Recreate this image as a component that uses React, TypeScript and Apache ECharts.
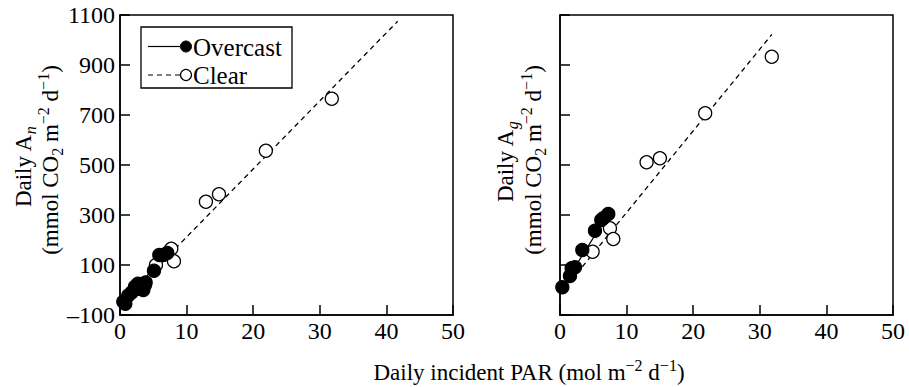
import React, { useEffect, useRef } from "react";
import * as echarts from "echarts";

// ---- data ----
const xTicks = [0, 10, 20, 30, 40, 50];
const yTicks = [-100, 100, 300, 500, 700, 900, 1100];

// Left panel: daily An
const anOvercastX = [0.5, 0.8, 1.25, 1.75, 2.25, 2.7, 3.0, 3.5, 3.75, 3.85, 5.1, 5.9, 6.5, 7.1];
const anOvercastY = [-47, -55, -22, -10, 13, 25, 5, 0, 20, 30, 77, 140, 140, 148];
const anClearX = [5.4, 7.7, 8.1, 12.9, 14.86, 21.9, 31.8];
const anClearY = [100, 165, 115, 353, 383, 557, 765];
const anOvercastFitX = [0.5, 7.1];
const anOvercastFitY = [-50, 148];
const anClearFitX = [4.5, 41.7];
const anClearFitY = [62, 1075];

// Right panel: daily Ag
const agOvercastX = [0.35, 1.5, 1.75, 2.25, 3.35, 5.25, 6.2, 6.5, 7.25];
const agOvercastY = [11, 56, 87, 91, 160, 237, 280, 287, 304];
const agClearX = [4.9, 7.5, 8.0, 13.0, 15.0, 21.8, 31.8];
const agClearY = [153, 247, 204, 511, 527, 707, 933];
const agOvercastFitX = [0.35, 7.25];
const agOvercastFitY = [11, 304];
const agClearFitX = [2.5, 31.8];
const agClearFitY = [65, 1022];

const FONT = "'Liberation Serif', 'Times New Roman', serif";

const pairs = (xs: number[], ys: number[]) => xs.map((x, i) => [x, ys[i]]);

export default function App() {
  const ref = useRef<HTMLDivElement>(null);

  useEffect(() => {
    if (!ref.current) return;
    const chart = echarts.init(ref.current, undefined, { renderer: "svg" });

    const xAxisBase = (gridIndex: number) => ({
      type: "value",
      gridIndex,
      min: xTicks[0],
      max: xTicks[xTicks.length - 1],
      interval: 10,
      axisLine: { show: true, onZero: false, lineStyle: { color: "#000", width: 1.5 } },
      axisTick: { show: true, inside: true, length: 10, lineStyle: { color: "#000", width: 1.5 } },
      axisLabel: { show: true, color: "#000", fontFamily: FONT, fontSize: 24, margin: 4 },
      splitLine: { show: false },
    });
    const yAxisBase = (gridIndex: number, showLabel: boolean) => ({
      type: "value",
      gridIndex,
      min: yTicks[0],
      max: yTicks[yTicks.length - 1],
      interval: 200,
      axisLine: { show: true, onZero: false, lineStyle: { color: "#000", width: 1.5 } },
      axisTick: { show: true, inside: true, length: 10, lineStyle: { color: "#000", width: 1.5 } },
      axisLabel: {
        show: showLabel,
        color: "#000",
        fontFamily: FONT,
        fontSize: 24,
        margin: 5,
        formatter: (v: number) => (v < 0 ? "\u2013" + Math.abs(v) : String(v)),
      },
      splitLine: { show: false },
    });

    const lineSeries = (xi: number, xs: number[], ys: number[], dashed: boolean) => ({
      type: "line",
      xAxisIndex: xi,
      yAxisIndex: xi,
      data: pairs(xs, ys),
      showSymbol: false,
      silent: true,
      z: 1,
      lineStyle: { color: "#000", width: 1.3, type: dashed ? [5, 4] : "solid" },
    });
    const scatterSeries = (xi: number, xs: number[], ys: number[], filled: boolean) => ({
      type: "scatter",
      xAxisIndex: xi,
      yAxisIndex: xi,
      data: pairs(xs, ys),
      symbol: "circle",
      symbolSize: 13,
      silent: true,
      z: filled ? 4 : 3,
      itemStyle: { color: filled ? "#000" : "#fff", borderColor: "#000", borderWidth: 1.3, opacity: 1 },
    });

    const rich = {
      a: { fontFamily: FONT, fontSize: 23, lineHeight: 30, color: "#000", verticalAlign: "middle" },
      sub: { fontFamily: FONT, fontSize: 16, lineHeight: 16, color: "#000", verticalAlign: "bottom" },
      subi: { fontFamily: FONT, fontSize: 16, lineHeight: 16, fontStyle: "italic", color: "#000", verticalAlign: "bottom" },
      sup: { fontFamily: FONT, fontSize: 16, lineHeight: 16, color: "#000", verticalAlign: "top" },
    };

    const unitText = "{a|(mmol CO}{sub|2}{a| m}{sup|\u22122}{a| d}{sup|\u22121}{a|)}";

    const rotText = (x: number, y: number, text: string) => ({
      type: "text",
      x,
      y,
      rotation: Math.PI / 2,
      silent: true,
      style: {
        text,
        rich,
        align: "center",
        verticalAlign: "middle",
        fill: "#000",
        font: `23px ${FONT}`,
      },
    });

    const option: any = {
      animation: false,
      backgroundColor: "#fff",
      grid: [
        { left: 120, top: 15, width: 333, height: 300, show: true, borderColor: "#000", borderWidth: 1.5, backgroundColor: "transparent" },
        { left: 560, top: 15, width: 333, height: 300, show: true, borderColor: "#000", borderWidth: 1.5, backgroundColor: "transparent" },
      ],
      xAxis: [xAxisBase(0), xAxisBase(1)],
      yAxis: [yAxisBase(0, true), yAxisBase(1, false)],
      series: [
        lineSeries(0, anOvercastFitX, anOvercastFitY, false),
        lineSeries(0, anClearFitX, anClearFitY, true),
        scatterSeries(0, anClearX, anClearY, false),
        scatterSeries(0, anOvercastX, anOvercastY, true),
        lineSeries(1, agOvercastFitX, agOvercastFitY, false),
        lineSeries(1, agClearFitX, agClearFitY, true),
        scatterSeries(1, agClearX, agClearY, false),
        scatterSeries(1, agOvercastX, agOvercastY, true),
      ],
      graphic: [
        // legend box
        {
          type: "rect",
          shape: { x: 141, y: 27, width: 151, height: 61 },
          style: { fill: "#fff", stroke: "#000", lineWidth: 1.3 },
          z: 10,
          silent: true,
        },
        {
          type: "line",
          shape: { x1: 148, y1: 46.5, x2: 180, y2: 46.5 },
          style: { stroke: "#000", lineWidth: 1.2 },
          z: 11,
          silent: true,
        },
        {
          type: "circle",
          shape: { cx: 186, cy: 46.5, r: 5.5 },
          style: { fill: "#000", stroke: "#000", lineWidth: 1 },
          z: 11,
          silent: true,
        },
        {
          type: "text",
          x: 193,
          y: 47,
          z: 11,
          silent: true,
          style: { text: "Overcast", font: `25px ${FONT}`, fill: "#000", align: "left", verticalAlign: "middle" },
        },
        {
          type: "line",
          shape: { x1: 148, y1: 75, x2: 180, y2: 75 },
          style: { stroke: "#000", lineWidth: 1.2, lineDash: [5, 4] },
          z: 11,
          silent: true,
        },
        {
          type: "circle",
          shape: { cx: 186, cy: 75, r: 5.5 },
          style: { fill: "#fff", stroke: "#000", lineWidth: 1.2 },
          z: 11,
          silent: true,
        },
        {
          type: "text",
          x: 193,
          y: 75.5,
          z: 11,
          silent: true,
          style: { text: "Clear", font: `25px ${FONT}`, fill: "#000", align: "left", verticalAlign: "middle" },
        },
        // y-axis titles
        rotText(23, 167, "{a|Daily A}{subi|n}"),
        rotText(50, 160, unitText),
        rotText(505, 162, "{a|Daily A}{subi|g}"),
        rotText(533, 160, unitText),
        // x-axis title
        {
          type: "text",
          x: 529,
          y: 372,
          silent: true,
          style: {
            text: "{a|Daily incident PAR (mol m}{sup|\u22122}{a| d}{sup|\u22121}{a|)}",
            rich,
            align: "center",
            verticalAlign: "middle",
            fill: "#000",
            font: `23px ${FONT}`,
          },
        },
      ],
    };

    chart.setOption(option);
    return () => chart.dispose();
  }, []);

  return <div ref={ref} style={{ width: 909, height: 387, position: "absolute", left: 0, top: 0 }} />;
}
